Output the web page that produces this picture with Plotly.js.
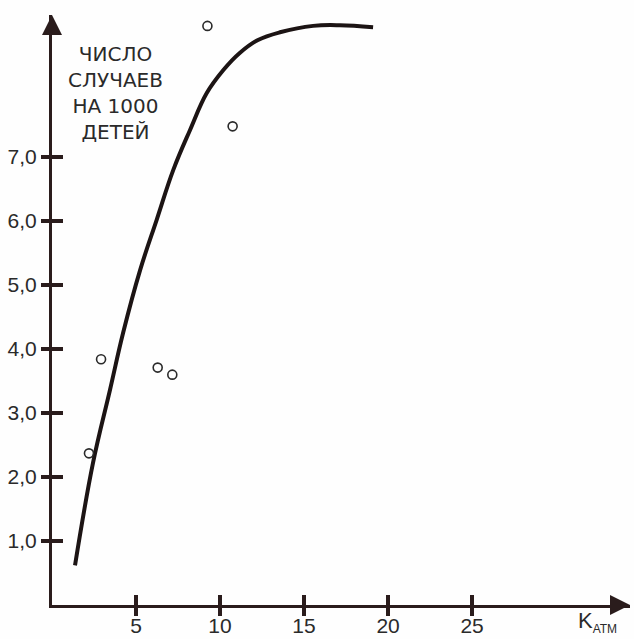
<!DOCTYPE html>
<html>
<head>
<meta charset="utf-8">
<script src="https://cdn.plot.ly/plotly-3.0.1.min.js"></script>
<style>html,body{margin:0;padding:0;background:#fff;}#chart{width:634px;height:639px;}</style>
</head>
<body>
<div id="chart"></div>
<script>
// Fitted curve
const curveX = [1.37, 2.44, 3.45, 4.23, 5.24, 6.23, 7.22, 8.21, 9.21, 10.20, 11.19, 12.26, 13.57, 15.54, 17.14, 19.11];
const curveY = [0.62, 2.22, 3.36, 4.25, 5.23, 6.02, 6.80, 7.42, 8.00, 8.36, 8.63, 8.83, 8.95, 9.05, 9.06, 9.03];
// Observed points
const obsX = [2.20, 2.92, 6.29, 7.16, 9.25, 10.75];
const obsY = [2.37, 3.84, 3.71, 3.60, 9.05, 7.48];
// Ticks
const yTickVals = [1, 2, 3, 4, 5, 6, 7];
const yTickText = ["1,0", "2,0", "3,0", "4,0", "5,0", "6,0", "7,0"];
const xTickVals = [5, 10, 15, 20, 25];
const xTickText = ["5", "10", "15", "20", "25"];
const yTitleLines = ["ЧИСЛО", "СЛУЧАЕВ", "НА 1000", "ДЕТЕЙ"];
const xTitleMain = "K";
const xTitleSub = "АТМ";

const ink = "#2a1c1c";
const font = "Liberation Sans, Arial, sans-serif";
const titleFont = "DejaVu Sans, Liberation Sans, sans-serif";
const xMax = 34.4, yMax = 9.22;

const baseAxis = {showgrid: false, zeroline: false, fixedrange: true, tickmode: "array"};

const data = [
  {x: curveX, y: curveY, mode: "lines", line: {color: "#1c1414", width: 4, shape: "spline", smoothing: 1.1},
   hoverinfo: "skip", showlegend: false},
  {x: obsX, y: obsY, mode: "markers",
   marker: {symbol: "circle-open", size: 9, color: "#2a2a2a", line: {width: 1.6, color: "#2a2a2a"}},
   showlegend: false},
  // arrow heads at the ends of both axes
  {x: [0, xMax], y: [yMax, 0], mode: "markers", cliponaxis: false, hoverinfo: "skip", showlegend: false,
   marker: {symbol: ["arrow-up", "arrow-right"], size: 20, color: ink, line: {width: 0}}},
  // empty helpers so the extra tick axes are drawn
  {x: [null], y: [null], xaxis: "x2", yaxis: "y", showlegend: false, hoverinfo: "skip"},
  {x: [null], y: [null], xaxis: "x3", yaxis: "y", showlegend: false, hoverinfo: "skip"},
  {x: [null], y: [null], xaxis: "x", yaxis: "y2", showlegend: false, hoverinfo: "skip"}
];

const layout = {
  width: 634, height: 639,
  margin: {l: 52, r: 4, t: 15, b: 34},
  paper_bgcolor: "#fefefe", plot_bgcolor: "#fefefe",
  showlegend: false,
  xaxis: Object.assign({}, baseAxis, {range: [0, xMax], tickvals: xTickVals, ticktext: xTickText,
    showline: true, linewidth: 3, linecolor: ink,
    ticks: "", tickfont: {family: font, size: 21, color: "#2a2a2a"}}),
  xaxis2: Object.assign({}, baseAxis, {range: [0, xMax], tickvals: xTickVals, overlaying: "x", anchor: "y", side: "bottom",
    showline: false, ticks: "outside", ticklen: 10, tickwidth: 3.5, tickcolor: ink, showticklabels: false}),
  xaxis3: Object.assign({}, baseAxis, {range: [0, xMax], tickvals: xTickVals, overlaying: "x", anchor: "y", side: "bottom",
    showline: false, ticks: "inside", ticklen: 10, tickwidth: 3.5, tickcolor: ink, showticklabels: false}),
  yaxis: Object.assign({}, baseAxis, {range: [0, yMax], tickvals: yTickVals, ticktext: yTickText,
    showline: true, linewidth: 3, linecolor: ink,
    ticks: "outside", ticklen: 8, tickwidth: 3.5, tickcolor: ink,
    tickfont: {family: font, size: 21, color: "#2a2a2a"}}),
  yaxis2: Object.assign({}, baseAxis, {range: [0, yMax], tickvals: yTickVals, overlaying: "y", anchor: "x", side: "left",
    showline: false, ticks: "inside", ticklen: 11, tickwidth: 3.5, tickcolor: ink, showticklabels: false}),
  annotations: [
    {x: 3.8, y: 8.0, xref: "x", yref: "y", showarrow: false, align: "center",
     text: yTitleLines.join("<br>"), font: {family: titleFont, size: 20, color: "#2a2a2a"}},
    {x: 31.2, y: -0.029, xref: "x", yref: "paper", xanchor: "left", yanchor: "middle", showarrow: false,
     text: xTitleMain + "<sub><span style=\"font-size:12px\">" + xTitleSub + "</span></sub>",
     font: {family: font, size: 22, color: "#2a2a2a"}}
  ]
};

Plotly.newPlot("chart", data, layout, {displayModeBar: false, staticPlot: true});
</script>
</body>
</html>
